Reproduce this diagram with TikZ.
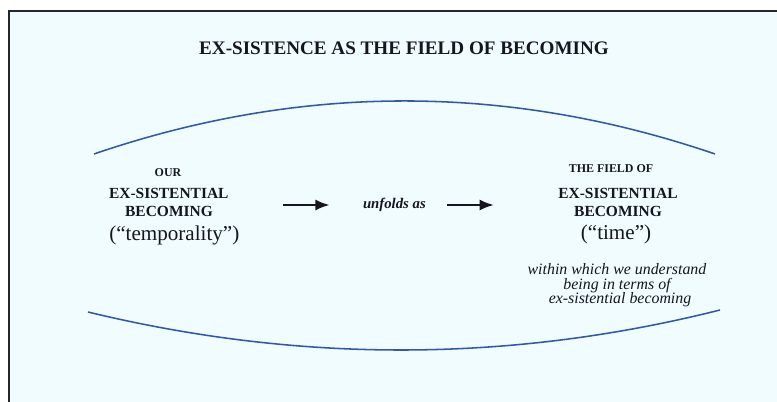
\documentclass[tikz,border=0pt]{standalone}
\usepackage{fontspec}
\setmainfont{Liberation Serif}
\usetikzlibrary{arrows.meta}
\definecolor{fieldbg}{RGB}{240,252,255}
\definecolor{arcblue}{RGB}{52,88,168}
\definecolor{inkgray}{RGB}{22,22,30}
\tikzset{
  caps/.style={inner sep=0pt,anchor=base,text=inkgray,font=\bfseries\fontsize{11}{13}\selectfont},
  smallcaps/.style={caps,font=\bfseries\fontsize{8.5}{10}\selectfont},
  paren/.style={inner sep=0pt,anchor=base,text=inkgray,font=\fontsize{15}{18}\selectfont},
  flow/.style={-{Latex[length=3.6mm,width=2.8mm]},line width=1.7pt,inkgray},
  fieldarc/.style={arcblue,line width=1.1pt}
}
\begin{document}
\begin{tikzpicture}
\useasboundingbox (0,0) rectangle (19.425,10.05);
% frame
\fill[fieldbg] (0.225,0) rectangle (19.425,9.775);
\draw[line width=1.4pt,black!85] (0.225,-0.1) |- (19.425,9.775);
\node[inner sep=0pt,anchor=base,text=inkgray,font=\bfseries\fontsize{13.6}{16}\selectfont] (title) at (10.1,8.675) {EX-SISTENCE AS THE FIELD OF BECOMING};
% the field
\coordinate (upL) at (2.35,6.2);
\coordinate (upR) at (17.875,6.2);
\draw[fieldarc] (upL) .. controls (7.525,7.9675) and (12.7,7.9675) .. (upR);
\coordinate (loL) at (2.2,2.25);
\coordinate (loR) at (18.0,2.3);
\draw[fieldarc] (loL) .. controls (7.4675,0.975) and (12.7325,0.975) .. (loR);
% our becoming
\node[smallcaps] (ourL) at (4.2,5.625) {OUR};
\node[caps] (exsL) at (4.22,5.075) {EX-SISTENTIAL};
\node[caps] (becL) at (4.225,4.625) {BECOMING};
\node[paren] (tempL) at (4.358,4.025) {(“temporality”)};
% unfolding
\node[inner sep=0pt,text=inkgray,font=\bfseries\itshape\fontsize{10.5}{12}\selectfont] (unf) at (9.86,4.925) {unfolds as};
\coordinate (src) at (7.075,4.925);
\coordinate (dst) at (12.35,4.925);
\draw[flow,shorten >=0.825cm] (src) -- (unf);
\draw[flow,shorten <=0.525cm] (unf) -- (dst);
% field of becoming
\node[smallcaps] (theR) at (15.275,5.733) {THE FIELD OF};
\node[caps] (exsR) at (15.45,5.075) {EX-SISTENTIAL};
\node[caps] (becR) at (15.45,4.625) {BECOMING};
\node[paren] (timeR) at (15.4,4.05) {(“time”)};
\node[inner sep=0pt,anchor=base,align=center,text=inkgray,font=\itshape\fontsize{11.3}{10.5}\selectfont] (notesR) at (15.425,2.45) {within which we understand\\being in terms of\\\hspace{0.15cm}ex-sistential becoming};
\end{tikzpicture}
\end{document}
